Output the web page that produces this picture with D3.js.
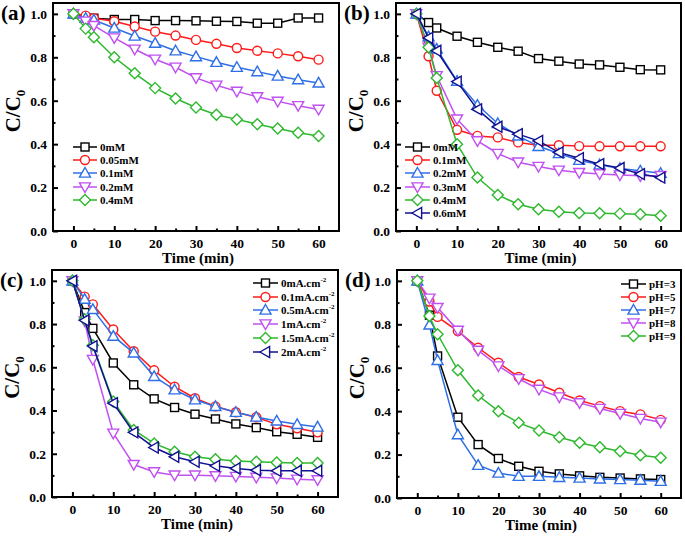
<!DOCTYPE html>
<html><head><meta charset="utf-8">
<script src="https://cdn.jsdelivr.net/npm/d3@7"></script>
<style>body{margin:0;background:#fff}svg{display:block}text{font-family:"Liberation Serif","Times New Roman",serif;font-weight:bold}</style>
</head><body><svg id="c" width="685" height="537"></svg>
<script>
const times = [0,3,5,10,15,20,25,30,35,40,45,50,55,60];
const xTicks = [0,10,20,30,40,50,60];
const xMinor = [5,15,25,35,45,55];
const yTicks = [0,0.2,0.4,0.6,0.8,1.0];
const yMinor = [0.1,0.3,0.5,0.7,0.9];

const aNames = ["0mM","0.05mM","0.1mM","0.2mM","0.4mM"];
const a0 = [1.0,0.981,0.980,0.974,0.974,0.969,0.969,0.968,0.966,0.965,0.957,0.957,0.981,0.981];
const a1 = [1.0,0.992,0.980,0.966,0.942,0.918,0.900,0.880,0.862,0.843,0.830,0.818,0.805,0.789];
const a2 = [1.0,0.980,0.972,0.935,0.898,0.865,0.830,0.803,0.777,0.754,0.734,0.714,0.697,0.682];
const a3 = [1.0,0.966,0.946,0.889,0.837,0.791,0.754,0.705,0.671,0.643,0.618,0.597,0.577,0.560];
const a4 = [1.0,0.932,0.892,0.800,0.726,0.658,0.610,0.569,0.535,0.514,0.492,0.472,0.452,0.438];

const bNames = ["0mM","0.1mM","0.2mM","0.3mM","0.4mM","0.6mM"];
const b0 = [1.0,0.960,0.935,0.897,0.869,0.846,0.828,0.794,0.782,0.769,0.765,0.754,0.743,0.742];
const b1 = [1.0,0.805,0.646,0.466,0.438,0.431,0.408,0.395,0.395,0.391,0.390,0.390,0.390,0.390];
const b2 = [1.0,0.895,0.838,0.690,0.580,0.495,0.438,0.390,0.357,0.326,0.305,0.288,0.277,0.266];
const b3 = [1.0,0.846,0.715,0.515,0.415,0.357,0.317,0.297,0.280,0.269,0.263,0.258,0.254,0.255];
const b4 = [1.0,0.846,0.705,0.400,0.246,0.166,0.123,0.100,0.089,0.083,0.082,0.080,0.077,0.070];
const b5 = [1.0,0.889,0.830,0.688,0.560,0.480,0.446,0.415,0.362,0.335,0.308,0.290,0.262,0.246];

const cNames = ["0mA.cm","0.1mA.cm","0.5mA.cm","1mA.cm","1.5mA.cm","2mA.cm"];
const c0 = [1.0,0.853,0.780,0.620,0.519,0.454,0.414,0.383,0.361,0.338,0.321,0.302,0.290,0.276];
const c1 = [1.0,0.927,0.891,0.775,0.674,0.586,0.510,0.457,0.419,0.392,0.369,0.336,0.318,0.299];
const c2 = [1.0,0.915,0.868,0.744,0.667,0.558,0.496,0.450,0.419,0.392,0.370,0.352,0.336,0.324];
const c3 = [1.0,0.814,0.636,0.295,0.150,0.116,0.101,0.101,0.098,0.095,0.091,0.088,0.082,0.079];
const c4 = [1.0,0.822,0.702,0.442,0.310,0.248,0.209,0.186,0.175,0.167,0.163,0.160,0.157,0.157];
const c5 = [1.0,0.817,0.698,0.434,0.299,0.229,0.186,0.163,0.144,0.132,0.124,0.121,0.121,0.121];

const dNames = ["pH=3","pH=5","pH=7","pH=8","pH=9"];
const d0 = [1.0,0.842,0.654,0.372,0.246,0.182,0.146,0.123,0.111,0.102,0.095,0.092,0.088,0.085];
const d1 = [1.0,0.905,0.834,0.769,0.692,0.623,0.557,0.523,0.485,0.449,0.423,0.400,0.385,0.360];
const d2 = [1.0,0.797,0.634,0.292,0.151,0.115,0.100,0.100,0.095,0.092,0.088,0.085,0.082,0.077];
const d3v = [1.0,0.920,0.877,0.772,0.680,0.608,0.549,0.500,0.465,0.438,0.412,0.389,0.366,0.349];
const d4 = [1.0,0.838,0.754,0.588,0.472,0.400,0.346,0.311,0.280,0.254,0.234,0.215,0.197,0.185];

const COL = {k:"#000000", r:"#ff1a1a", b:"#2f6fe6", p:"#c050f0", g:"#2db82d", n:"#101090"};

const panels = [
  {label:"(a)", box:[53,339,3,231], names:aNames, data:[a0,a1,a2,a3,a4],
   styles:[["k","sq"],["r","ci"],["b","tu"],["p","td"],["g","di"]],
   leg:{x0:73, x1:97, y:[147,160,173,187,200], sup:false}},
  {label:"(b)", box:[396,681,3,231], names:bNames, data:[b0,b1,b2,b3,b4,b5],
   styles:[["k","sq"],["r","ci"],["b","tu"],["p","td"],["g","di"],["n","tl"]],
   leg:{x0:405, x1:430, y:[147,160,173,187,200,213], sup:false}},
  {label:"(c)", box:[52,338,270,497], names:cNames, data:[c0,c1,c2,c3,c4,c5],
   styles:[["k","sq"],["r","ci"],["b","tu"],["p","td"],["g","di"],["n","tl"]],
   leg:{x0:253, x1:278, y:[283,297,310,324,338,352], sup:true}},
  {label:"(d)", box:[397,681,270,498], names:dNames, data:[d0,d1,d2,d3v,d4],
   styles:[["k","sq"],["r","ci"],["b","tu"],["p","td"],["g","di"]],
   leg:{x0:621, x1:646, y:[284,297,310,323,336], sup:false}}
];

function marker(sel, type, x, y, color){
  const s = 4.5;
  let el;
  if(type==="sq") el = sel.append("rect").attr("x",x-s+0.5).attr("y",y-s+0.5).attr("width",2*s-1).attr("height",2*s-1);
  else if(type==="ci") el = sel.append("circle").attr("cx",x).attr("cy",y).attr("r",s);
  else {
    let pts;
    const t=5.5;
    if(type==="tu") pts=[[0,-t],[t,t*0.75],[-t,t*0.75]];
    else if(type==="td") pts=[[0,t],[t,-t*0.75],[-t,-t*0.75]];
    else if(type==="tl") pts=[[-t,0],[t*0.75,-t],[t*0.75,t]];
    else pts=[[0,-t],[t,0],[0,t],[-t,0]];
    el = sel.append("polygon").attr("points", pts.map(p=>(x+p[0])+","+(y+p[1])).join(" "));
  }
  el.attr("fill","#fff").attr("stroke",color).attr("stroke-width",1.4);
}

const svg = d3.select("#c");
panels.forEach(P=>{
  const [L,R,T,B] = P.box;
  const x = d3.scaleLinear().domain([-5,65]).range([L,R]);
  const y = d3.scaleLinear().domain([0,1.05]).range([B,T]);
  const g = svg.append("g");

  const ax = g.append("g").attr("transform",`translate(0,${B})`)
    .call(d3.axisBottom(x).tickValues(xTicks).tickSizeInner(-5).tickSizeOuter(0).tickPadding(7).tickFormat(d3.format("d")));
  ax.select(".domain").remove();
  ax.selectAll("text").attr("font-size",13.5).attr("fill","#000");
  ax.selectAll("line").attr("stroke-width",2);
  const axm = g.append("g").attr("transform",`translate(0,${B})`)
    .call(d3.axisBottom(x).tickValues(xMinor).tickSizeInner(-2.5).tickSizeOuter(0).tickFormat(""));
  axm.select(".domain").remove();
  axm.selectAll("line").attr("stroke-width",2);

  const ay = g.append("g").attr("transform",`translate(${L},0)`)
    .call(d3.axisRight(y).tickValues(yTicks).tickSizeInner(5).tickSizeOuter(0).tickFormat(""));
  ay.select(".domain").remove();
  ay.selectAll("line").attr("stroke-width",2);
  const aym = g.append("g").attr("transform",`translate(${L},0)`)
    .call(d3.axisRight(y).tickValues(yMinor).tickSizeInner(2.5).tickSizeOuter(0).tickFormat(""));
  aym.select(".domain").remove();
  aym.selectAll("line").attr("stroke-width",2);
  const ayl = g.append("g").attr("transform",`translate(${L},0)`)
    .call(d3.axisLeft(y).tickValues(yTicks).tickSize(0).tickPadding(6).tickFormat(d3.format(".1f")));
  ayl.select(".domain").remove();
  ayl.selectAll("text").attr("font-size",13.5).attr("fill","#000");

  g.append("rect").attr("x",L).attr("y",T).attr("width",R-L).attr("height",B-T)
    .attr("fill","none").attr("stroke","#000").attr("stroke-width",2);

  g.append("text").attr("x",(L+R)/2+2).attr("y",B+32).attr("text-anchor","middle").attr("font-size",15).text("Time (min)");
  const yt = g.append("text").attr("transform",`translate(${L-33},${(T+B)/2-6}) rotate(-90)`).attr("text-anchor","middle").attr("font-size",21);
  yt.append("tspan").text("C/C");
  yt.append("tspan").attr("font-size",13).attr("dy",5).text("0");
  g.append("text").attr("x",L-52).attr("y",T+17).attr("font-size",21).text(P.label);

  const line = d3.line().x((d,i)=>x(times[i])).y(d=>y(d));
  P.data.forEach((vals,si)=>{
    const [ck,mk] = P.styles[si];
    const col = COL[ck];
    g.append("path").attr("d",line(vals)).attr("fill","none").attr("stroke",col).attr("stroke-width",1.5);
    const mg = g.append("g");
    vals.forEach((v,i)=>marker(mg, mk, x(times[i]), y(v), col));
  });

  const lg = g.append("g");
  P.names.forEach((nm,i)=>{
    const [ck,mk] = P.styles[i];
    const col = COL[ck];
    const yy = P.leg.y[i];
    lg.append("line").attr("x1",P.leg.x0).attr("x2",P.leg.x1).attr("y1",yy).attr("y2",yy).attr("stroke",col).attr("stroke-width",1.5);
    marker(lg, mk, (P.leg.x0+P.leg.x1)/2, yy, col);
    const t = lg.append("text").attr("x",P.leg.x1+3).attr("y",yy+3.8).attr("font-size",11).text(nm);
    if(P.leg.sup) t.append("tspan").attr("font-size",7).attr("dy",-5).text("-2");
  });
});
</script></body></html>
